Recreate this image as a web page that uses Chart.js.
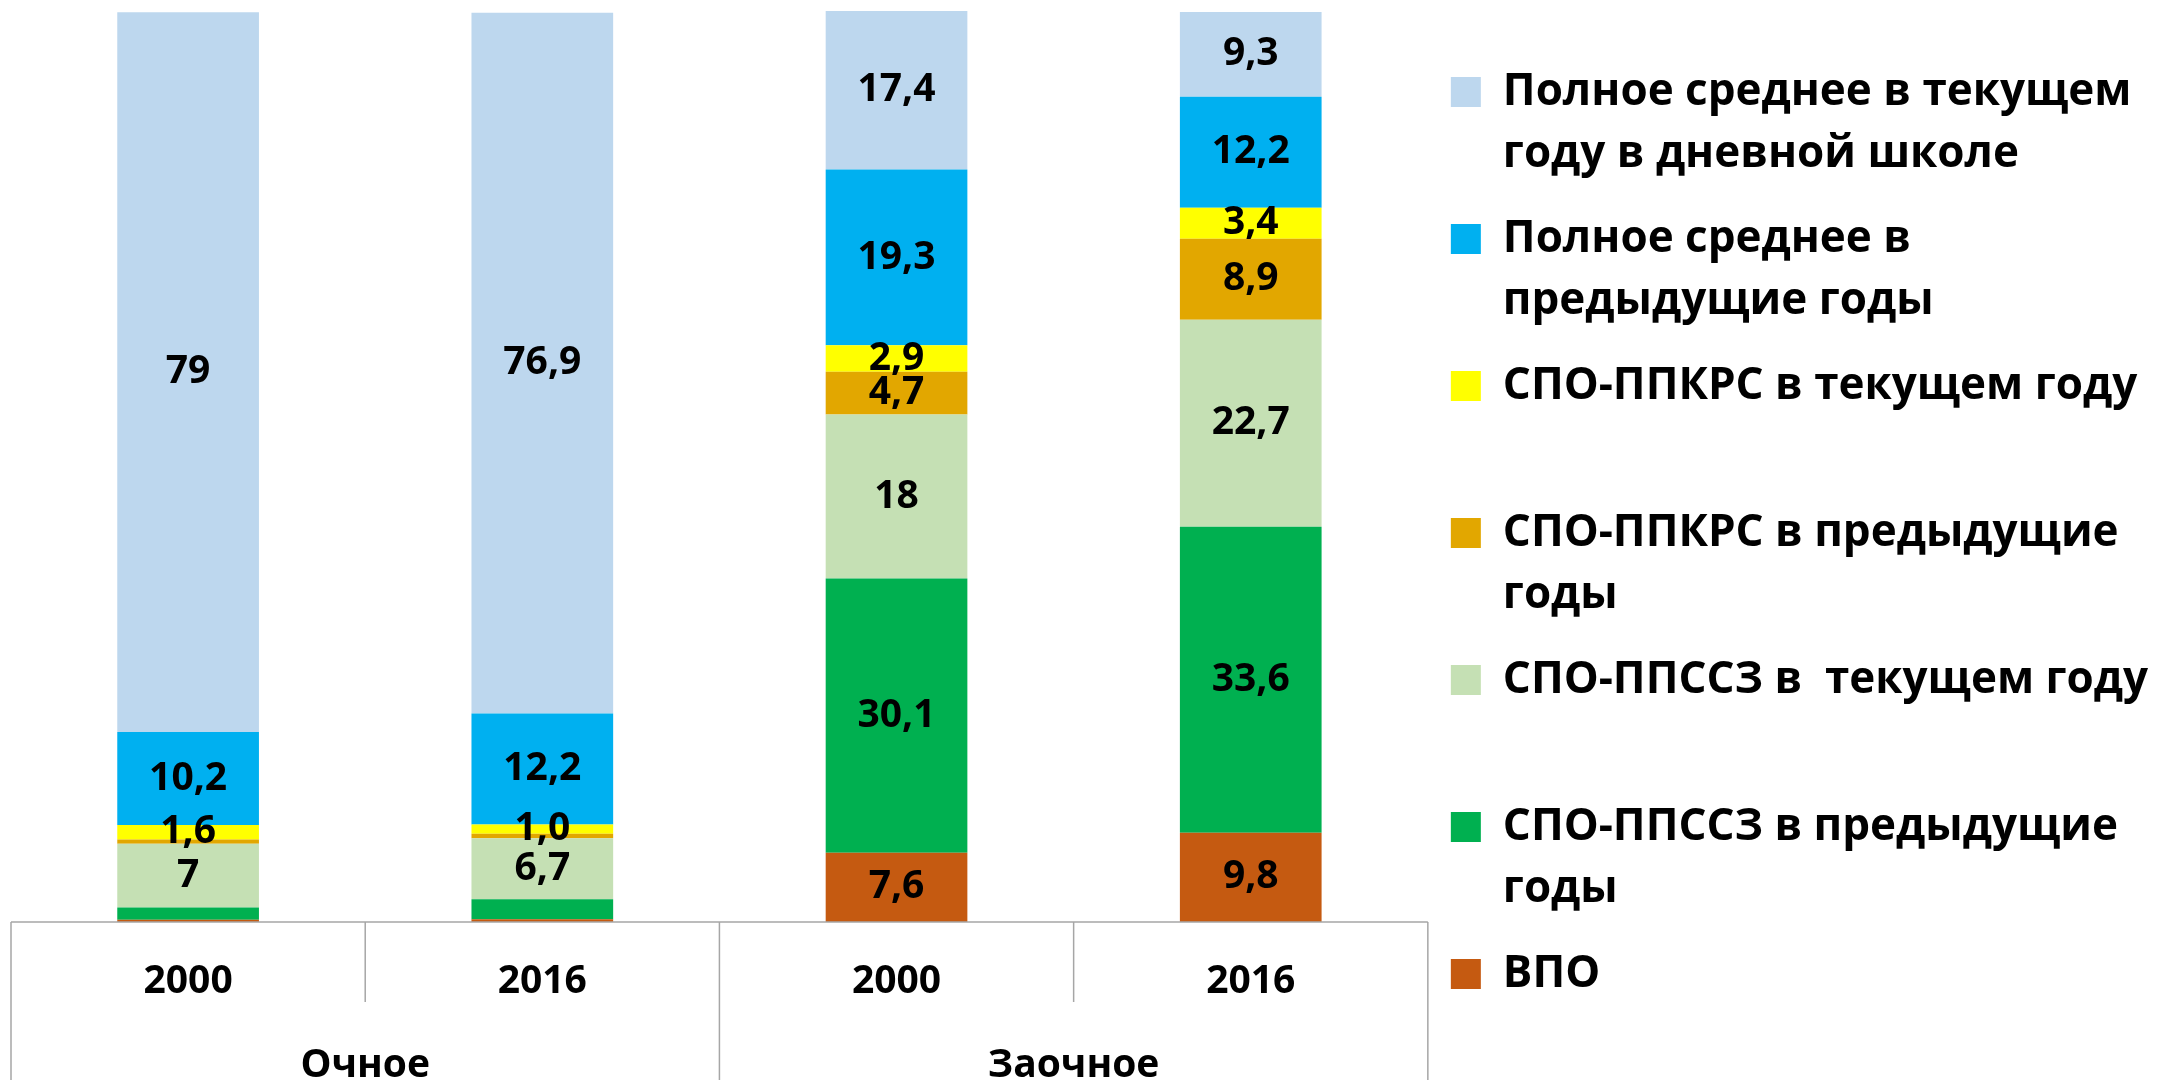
<!DOCTYPE html>
<html>
<head>
<meta charset="utf-8">
<title>Очное / Заочное</title>
<script src="https://cdn.jsdelivr.net/npm/chart.js@4.4.1/dist/chart.umd.min.js"></script>
<style>
  html, body { margin: 0; padding: 0; background: #fff; }
  #wrap { width: 2158px; height: 1080px; }
</style>
</head>
<body>
<div id="wrap"><canvas id="chart"></canvas></div>
<script>
const years = ["2000", "2016", "2000", "2016"];
const forms = ["Очное", "Заочное"];

// values, bottom of the stack first
const vpo = [0.25, 0.3, 7.6, 9.8];
const ppsszPrev = [1.35, 2.2, 30.1, 33.6];
const ppsszCur = [7, 6.7, 18, 22.7];
const ppkrsPrev = [0.45, 0.5, 4.7, 8.9];
const ppkrsCur = [1.6, 1.0, 2.9, 3.4];
const fullPrev = [10.2, 12.2, 19.3, 12.2];
const fullCur = [79, 76.9, 17.4, 9.3];

// labels as printed on the bars (null = no label)
const vpoText = [null, null, "7,6", "9,8"];
const ppsszPrevText = [null, null, "30,1", "33,6"];
const ppsszCurText = ["7", "6,7", "18", "22,7"];
const ppkrsPrevText = [null, null, "4,7", "8,9"];
const ppkrsCurText = ["1,6", "1,0", "2,9", "3,4"];
const fullPrevText = ["10,2", "12,2", "19,3", "12,2"];
const fullCurText = ["79", "76,9", "17,4", "9,3"];

// legend text, one entry per series (same order as above)
const seriesNames = [
  "ВПО",
  ["СПО-ППССЗ в предыдущие", "годы"],
  ["СПО-ППССЗ в  текущем году", ""],
  ["СПО-ППКРС в предыдущие", "годы"],
  ["СПО-ППКРС в текущем году", ""],
  ["Полное среднее в", "предыдущие годы"],
  ["Полное среднее в текущем", "году в дневной школе"],
];

const FONT = "'Open Sans', 'Noto Sans', sans-serif";

const datasets = [
  { data: vpo, printed: vpoText, backgroundColor: "#C55A11" },
  { data: ppsszPrev, printed: ppsszPrevText, backgroundColor: "#00B050" },
  { data: ppsszCur, printed: ppsszCurText, backgroundColor: "#C5E0B4" },
  { data: ppkrsPrev, printed: ppkrsPrevText, backgroundColor: "#E2A700" },
  { data: ppkrsCur, printed: ppkrsCurText, backgroundColor: "#FFFF00" },
  { data: fullPrev, printed: fullPrevText, backgroundColor: "#00B0F0" },
  { data: fullCur, printed: fullCurText, backgroundColor: "#BDD7EE" },
].map((ds, i) => ({ ...ds, label: "s" + i, borderWidth: 0 }));

// numbers in the middle of each segment
const barLabels = {
  id: "barLabels",
  afterDatasetsDraw(chart) {
    const { ctx } = chart;
    ctx.save();
    ctx.font = "bold 39px " + FONT;
    ctx.fillStyle = "#000";
    ctx.textAlign = "center";
    ctx.textBaseline = "middle";
    chart.data.datasets.forEach((ds, i) => {
      chart.getDatasetMeta(i).data.forEach((bar, j) => {
        const t = ds.printed[j];
        if (!t) return;
        ctx.fillText(t, bar.x, (bar.y + bar.base) / 2);
      });
    });
    ctx.restore();
  },
};

// the grey table under the bars (two rows of category labels)
const axisTable = {
  id: "axisTable",
  afterDraw(chart) {
    const { ctx, chartArea } = chart;
    const x = chart.scales.x;
    const x2 = chart.scales.x2;
    const perGroup = years.length / forms.length;
    ctx.save();
    ctx.strokeStyle = "#A6A6A6";
    ctx.lineWidth = 1.5;
    ctx.beginPath();
    ctx.moveTo(chartArea.left, x.top);
    ctx.lineTo(chartArea.right, x.top);
    for (let i = 0; i <= years.length; i++) {
      const px = x.getPixelForValue(i - 0.5);
      ctx.moveTo(px, x.top);
      ctx.lineTo(px, i % perGroup === 0 ? x2.bottom : x.bottom);
    }
    ctx.stroke();
    ctx.restore();
  },
};

const tickFont = { family: FONT, size: 39, weight: "bold" };

new Chart(document.getElementById("chart"), {
  type: "bar",
  data: { labels: years, datasets: datasets },
  options: {
    responsive: true,
    maintainAspectRatio: false,
    animation: false,
    layout: { padding: { top: 11, left: 11 } },
    datasets: { bar: { barPercentage: 0.4, categoryPercentage: 1 } },
    scales: {
      x: {
        stacked: true,
        grid: { display: false },
        border: { display: false },
        ticks: { color: "#000", font: tickFont, padding: 28, maxRotation: 0, autoSkip: false },
        afterFit: (s) => { s.height = 80; },
      },
      x2: {
        type: "category",
        labels: forms,
        position: "bottom",
        offset: true,
        weight: 1,
        grid: { display: false },
        border: { display: false },
        ticks: { color: "#000", font: tickFont, padding: 32, maxRotation: 0 },
        afterFit: (s) => { s.height = 78; },
      },
      y: { stacked: true, display: false, min: 0, max: 100 },
    },
    plugins: {
      tooltip: { enabled: false },
      legend: {
        position: "right",
        align: "start",
        reverse: true,
        title: { display: true, text: "", padding: { top: 24, bottom: 0 }, font: { size: 10 } },
        labels: {
          boxWidth: 30,
          boxHeight: 30,
          padding: 23,
          color: "#000",
          font: { family: FONT, size: 44, weight: "bold", lineHeight: "62px" },
          generateLabels(chart) {
            const items = Chart.defaults.plugins.legend.labels.generateLabels(chart);
            items.forEach((it) => { it.text = seriesNames[it.datasetIndex]; });
            return items;
          },
        },
      },
    },
  },
  plugins: [barLabels, axisTable],
});
</script>
</body>
</html>
